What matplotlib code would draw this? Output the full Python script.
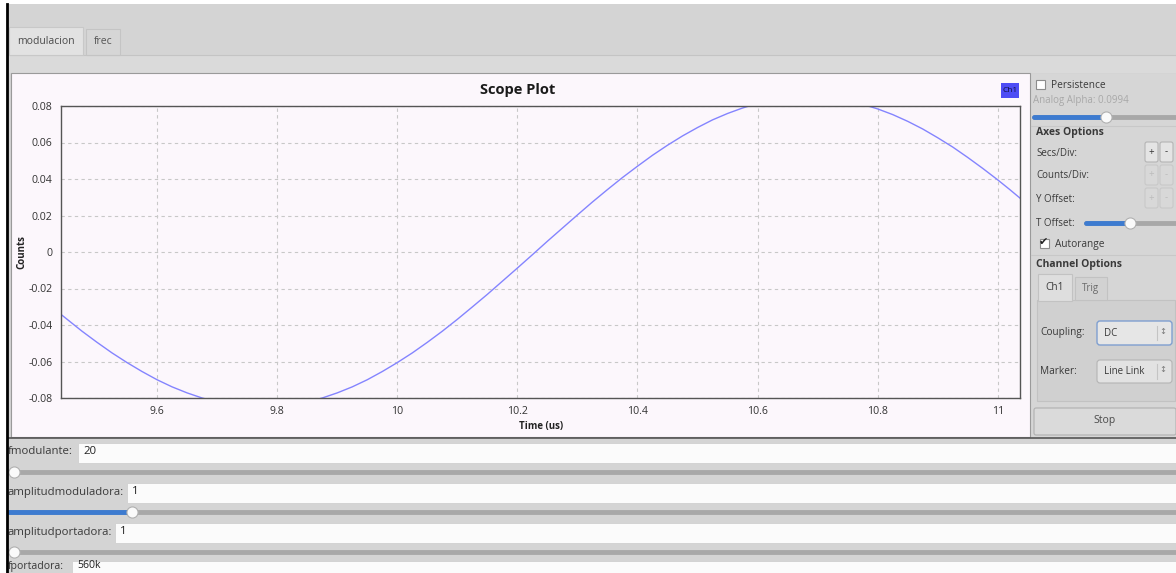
import matplotlib
matplotlib.use("Agg")
import matplotlib.pyplot as plt
from matplotlib.patches import Rectangle, FancyBboxPatch

plt.rcParams['font.family'] = ['Open Sans', 'DejaVu Sans']

# scope trace (Ch1)
time_us = [9.44, 9.475, 9.50, 9.525, 9.55, 9.575, 9.60, 9.625, 9.65, 9.675,
           9.70, 9.725, 9.75, 9.775, 9.80, 9.825, 9.85, 9.875, 9.90, 9.925,
           9.95, 9.975, 10.00, 10.025, 10.05, 10.075, 10.10, 10.125, 10.15, 10.175,
           10.20, 10.225, 10.25, 10.275, 10.30, 10.325, 10.35, 10.375, 10.40, 10.425,
           10.45, 10.475, 10.50, 10.525, 10.55, 10.575, 10.60, 10.625, 10.65, 10.675,
           10.70, 10.725, 10.75, 10.775, 10.80, 10.825, 10.85, 10.875, 10.90, 10.925,
           10.95, 10.975, 11.00, 11.02, 11.04]
ch1 = [-0.0342, -0.0434, -0.0495, -0.0553, -0.0606, -0.0655, -0.0700, -0.0739, -0.0772, -0.0800,
       -0.0822, -0.0837, -0.0847, -0.0850, -0.0847, -0.0837, -0.0822, -0.0800, -0.0772, -0.0739,
       -0.0700, -0.0655, -0.0606, -0.0553, -0.0495, -0.0434, -0.0369, -0.0301, -0.0232, -0.0160,
       -0.0088, -0.0015, 0.0059, 0.0131, 0.0203, 0.0274, 0.0342, 0.0408, 0.0470, 0.0530,
       0.0585, 0.0636, 0.0682, 0.0724, 0.0759, 0.0789, 0.0814, 0.0832, 0.0844, 0.0849,
       0.0849, 0.0842, 0.0829, 0.0809, 0.0784, 0.0753, 0.0716, 0.0674, 0.0626, 0.0575,
       0.0518, 0.0458, 0.0395, 0.0342, 0.0287]

xticks = [9.6, 9.8, 10, 10.2, 10.4, 10.6, 10.8, 11]
xlabels = ["9.6", "9.8", "10", "10.2", "10.4", "10.6", "10.8", "11"]
yticks = [-0.08, -0.06, -0.04, -0.02, 0, 0.02, 0.04, 0.06, 0.08]
ylabels = ["-0.08", "-0.06", "-0.04", "-0.02", "0", "0.02", "0.04", "0.06", "0.08"]

# bottom-panel variables
var_names = ["fmodulante:", "amplitudmoduladora:", "amplitudportadora:", "fportadora:"]
var_values = ["20", "1", "1", "560k"]

W, H = 1176, 573
fig = plt.figure(figsize=(W / 100, H / 100), dpi=100)

# background "window" drawn in pixel coordinates
bg = fig.add_axes([0, 0, 1, 1], zorder=0)
bg.set_xlim(0, W)
bg.set_ylim(H, 0)
bg.axis("off")

GRAY = "#d4d4d4"
PANEL = "#fcf7fc"
BLUE = "#3d7bd0"


def box(x, y, w, h, fc, ec="none", lw=1.0, z=1):
    bg.add_patch(Rectangle((x, y), w, h, facecolor=fc, edgecolor=ec, lw=lw, zorder=z))


def txt(x, y, s, size=8, color="#3a3a3a", **kw):
    bg.text(x, y, s, fontsize=size, color=color, va="center", zorder=5, **kw)


def slider(x0, x1, y, pos, filled=False):
    bg.plot([x0, x1], [y, y], color="#a8a8a8", lw=3.5, solid_capstyle="round", zorder=3)
    if filled:
        bg.plot([x0, pos], [y, y], color=BLUE, lw=3.5, solid_capstyle="round", zorder=3)
    bg.plot([pos], [y], "o", ms=8, mfc="#fafafa", mec="#b0b0b0", mew=0.8, zorder=4)


def button(x, y, w, h, label, enabled=True):
    bg.add_patch(FancyBboxPatch((x, y), w, h, boxstyle="round,pad=0,rounding_size=2",
                                facecolor="#e4e4e4" if enabled else "#d8d8d8",
                                edgecolor="#b4b4b4" if enabled else "#c8c8c8", lw=0.8, zorder=3))
    bg.text(x + w / 2, y + h / 2, label, fontsize=7, ha="center", va="center",
            color="#333333" if enabled else "#bcbcbc", zorder=5)


# window background
box(0, 0, W, H, "white", z=0)
box(8, 4, W - 8, H - 4, GRAY, z=0.5)
bg.plot([7, 7], [4, H], color="black", lw=2, zorder=6)

# tabs
box(8, 55, W - 8, 18, "#dadada", z=0.6)
bg.plot([8, W], [55, 55], color="#c4c4c4", lw=0.8, zorder=2)
box(9, 27, 74, 28, "#e2e2e2", ec="#c8c8c8", lw=0.8, z=2)
box(86, 29, 34, 26, "#d6d6d6", ec="#c4c4c4", lw=0.8, z=1.5)
txt(46, 41, "modulacion", size=7.5, ha="center", color="#4a4a4a")
txt(103, 42, "frec", size=7.5, ha="center", color="#555555")

# plot widget panel
box(11, 73, 1019, 364, PANEL, ec="#9a9a9a", lw=0.8, z=1)
bg.plot([8, W], [438, 438], color="#555555", lw=1.2, zorder=2)
bg.text(518, 90, "Scope Plot", fontsize=10.5, fontweight="bold", ha="center",
        va="center", color="#1a1a1a", zorder=5)
box(1001, 83, 18, 15, "#4d4df5", z=2)
bg.text(1010, 90.5, "Ch1", fontsize=6, ha="center", va="center", color="#101040", zorder=5)
bg.text(22, 252, "Counts", fontsize=7, fontweight="bold", rotation=90,
        ha="center", va="center", color="#222222", zorder=5)
bg.text(541, 427, "Time (us)", fontsize=7, fontweight="bold", ha="center",
        va="center", color="#222222", zorder=5)

# right control panel
box(1031, 74, 145, 364, "#d6d6d6", z=0.8)
box(1036, 80, 9, 9, "white", ec="#8c8c8c", lw=0.8, z=3)
txt(1051, 85, "Persistence", size=7.3)
txt(1033, 101, "Analog Alpha: 0.0994", size=7, color="#a8a8a8")
slider(1034, 1176, 117, 1106, filled=True)
bg.plot([1031, W], [126, 126], color="#c8c8c8", lw=0.8, zorder=2)
txt(1036, 133, "Axes Options", size=7.5, fontweight="bold")
txt(1036, 153, "Secs/Div:", size=7)
txt(1036, 176, "Counts/Div:", size=7)
txt(1036, 199, "Y Offset:", size=7)
button(1145, 142, 13, 20, "+")
button(1160, 142, 13, 20, "-")
button(1145, 165, 13, 20, "+", enabled=False)
button(1160, 165, 13, 20, "-", enabled=False)
button(1145, 188, 13, 20, "+", enabled=False)
button(1160, 188, 13, 20, "-", enabled=False)
txt(1036, 223, "T Offset:", size=7)
slider(1086, 1176, 223, 1130, filled=True)
box(1040, 239, 9, 9, "white", ec="#8c8c8c", lw=0.8, z=3)
txt(1039, 243, "\u2714", size=8, color="#222222")
txt(1055, 244, "Autorange", size=7.3)
bg.plot([1031, W], [255, 255], color="#c8c8c8", lw=0.8, zorder=2)
txt(1036, 265, "Channel Options", size=7.5, fontweight="bold")
box(1037, 300, 138, 101, "#d0d0d0", ec="#c2c2c2", lw=0.8, z=1.2)
box(1038, 274, 34, 27, "#dedede", ec="#c2c2c2", lw=0.8, z=2)
box(1075, 277, 32, 23, "#d2d2d2", ec="#c2c2c2", lw=0.8, z=1.5)
txt(1055, 287, "Ch1", size=7.3, ha="center")
txt(1091, 289, "Trig", size=7, ha="center", color="#6a6a6a")
txt(1040, 333, "Coupling:", size=7.3)
txt(1040, 371, "Marker:", size=7.3)
bg.add_patch(FancyBboxPatch((1097, 321), 75, 24, boxstyle="round,pad=0,rounding_size=3",
                            facecolor="#e6e6e6", edgecolor="#7f9fd0", lw=1.0, zorder=3))
bg.add_patch(FancyBboxPatch((1097, 360), 75, 23, boxstyle="round,pad=0,rounding_size=3",
                            facecolor="#e2e2e2", edgecolor="#b4b4b4", lw=0.8, zorder=3))
txt(1104, 333, "DC", size=7)
txt(1104, 371, "Line Link", size=7)
txt(1163, 333, "\u2195", size=6, ha="center", color="#777777")
txt(1163, 371, "\u2195", size=6, ha="center", color="#777777")
bg.plot([1157, 1157], [326, 340], color="#c4c4c4", lw=0.8, zorder=4)
bg.plot([1157, 1157], [364, 379], color="#c4c4c4", lw=0.8, zorder=4)
bg.add_patch(FancyBboxPatch((1034, 408), 142, 27, boxstyle="round,pad=0,rounding_size=2",
                            facecolor="#dadada", edgecolor="#b0b0b0", lw=0.8, zorder=3))
txt(1105, 421, "Stop", size=7.5, ha="center", color="#4a4a4a")

# bottom variable rows
field_x = [78, 127, 115, 72]
row_y = [443, 483, 523, 561]
slider_pos = [14, 132, 14]
for i, name in enumerate(var_names):
    y = row_y[i]
    box(field_x[i], y, W - field_x[i], 20, "#fbfbfb", ec="#d0d0d0", lw=0.6, z=2)
    ty = y + 9 if i < 3 else y + 5
    txt(8, ty, name, size=8.2 if i < 3 else 7.6)
    txt(field_x[i] + 5, ty, var_values[i], size=8.2 if i < 3 else 7.6, color="#222222")
    if i < 3:
        slider(9, W + 5, y + 29, slider_pos[i], filled=(i == 1))

# scope plot
ax = fig.add_axes([61 / W, (H - 398) / H, 959 / W, 292 / H], zorder=1)
ax.set_facecolor(PANEL)
ax.plot(time_us, ch1, color="#8484ff", lw=1.0)
ax.set_xlim(9.44, 11.037)
ax.set_ylim(-0.08, 0.08)
ax.set_xticks(xticks)
ax.set_xticklabels(xlabels)
ax.set_yticks(yticks)
ax.set_yticklabels(ylabels)
ax.tick_params(length=0, labelsize=7.6, colors="#333333", pad=6)
ax.grid(True, color="#c8c8c8", linestyle=(0, (3, 3)), lw=0.8)
for sp in ax.spines.values():
    sp.set_color("#555555")
    sp.set_linewidth(1.0)

fig.savefig("out.png", dpi=100)
